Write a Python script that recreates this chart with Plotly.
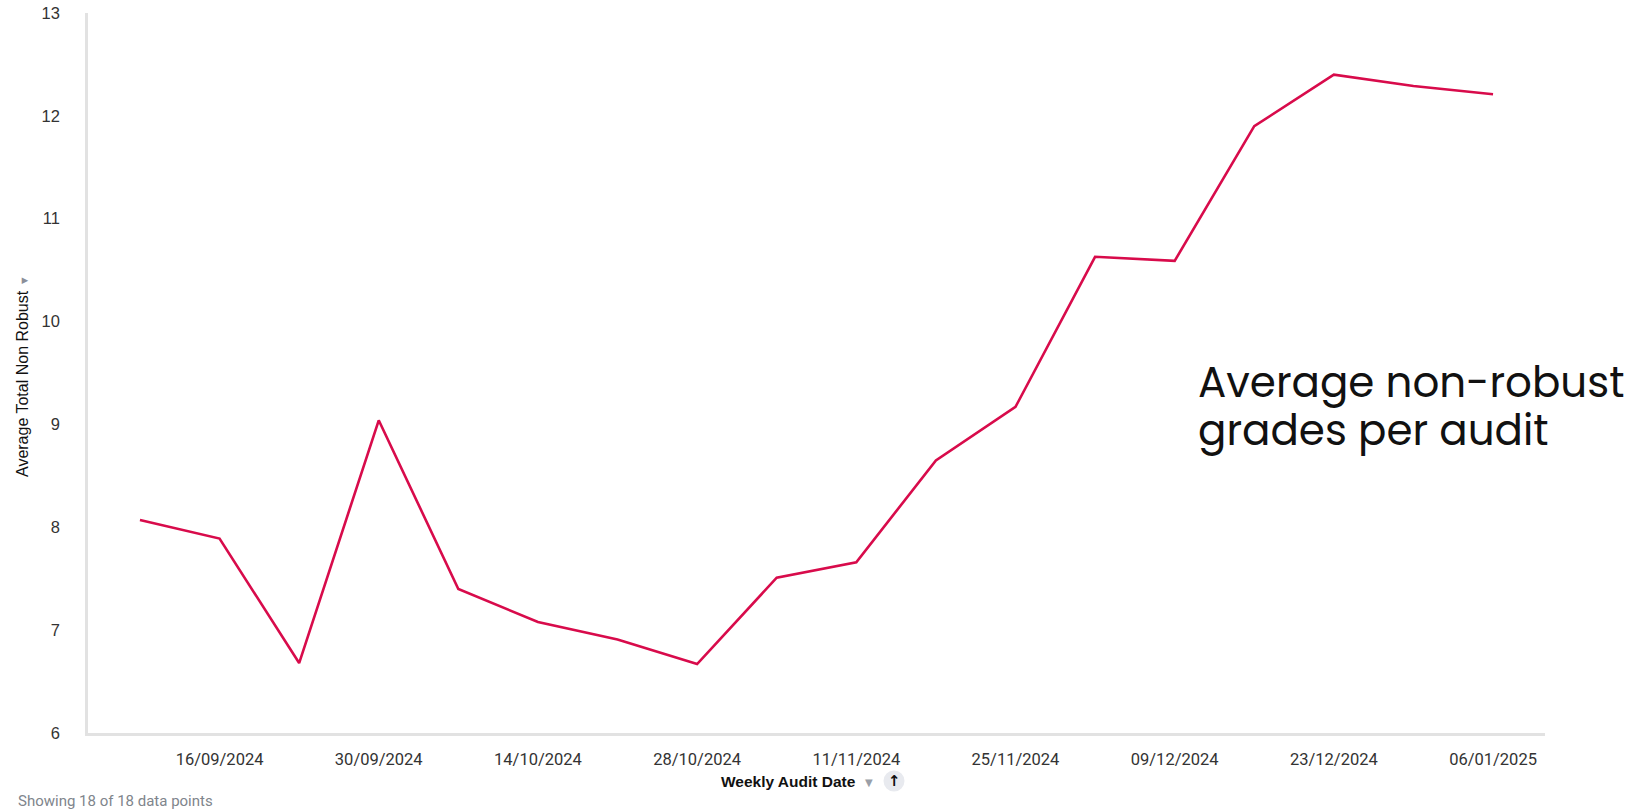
import pandas as pd
import plotly.graph_objects as go

# Weekly audit dates and the average number of non-robust grades per audit
week_start = ["2024-09-09", "2024-09-16", "2024-09-23", "2024-09-30", "2024-10-07",
              "2024-10-14", "2024-10-21", "2024-10-28", "2024-11-04", "2024-11-11",
              "2024-11-18", "2024-11-25", "2024-12-02", "2024-12-09", "2024-12-16",
              "2024-12-23", "2024-12-30", "2025-01-06"]
avg_non_robust = [8.07, 7.89, 6.68, 9.04, 7.40, 7.08, 6.91, 6.67, 7.51, 7.66,
                  8.65, 9.17, 10.63, 10.59, 11.90, 12.40, 12.29, 12.21]

# Fortnightly tick marks on the date axis
tick_dates = ["2024-09-16", "2024-09-30", "2024-10-14", "2024-10-28", "2024-11-11",
              "2024-11-25", "2024-12-09", "2024-12-23", "2025-01-06"]
tick_labels = ["16/09/2024", "30/09/2024", "14/10/2024", "28/10/2024", "11/11/2024",
               "25/11/2024", "09/12/2024", "23/12/2024", "06/01/2025"]
y_ticks = [6, 7, 8, 9, 10, 11, 12, 13]

W, H = 1637, 809
ML, MR, MT, MB = 88, 92, 13, 76
plot_w = W - ML - MR
plot_h = H - MT - MB


def px_x(px):
    return (px - ML) / plot_w


def px_y(py):
    return (H - MB - py) / plot_h


dates = pd.to_datetime(week_start)
pad = pd.Timedelta(days=4.57)
x_range = [dates.min() - pad, dates.max() + pad]

fig = go.Figure()
fig.add_trace(go.Scatter(
    x=dates, y=avg_non_robust, mode="lines",
    line=dict(color="#D80B4B", width=2.6),
    hoverinfo="x+y", showlegend=False,
))

fig.update_layout(
    width=W, height=H,
    margin=dict(l=ML, r=MR, t=MT, b=MB, pad=0),
    paper_bgcolor="white", plot_bgcolor="white",
    xaxis=dict(
        type="date", range=x_range, automargin=False,
        tickvals=pd.to_datetime(tick_dates), ticktext=tick_labels,
        showgrid=False, zeroline=False,
        showline=True, linecolor="#E2E2E2", linewidth=2.5,
        ticks="", ticklabelstandoff=9,
        tickfont=dict(family="Roboto, sans-serif", size=16.5, color="#333333"),
    ),
    yaxis=dict(
        range=[6, 13], tickvals=y_ticks, automargin=False,
        showgrid=False, zeroline=False,
        showline=True, linecolor="#E2E2E2", linewidth=2.5,
        ticks="", ticklabelstandoff=22,
        tickfont=dict(family="Liberation Sans, Arial, sans-serif", size=16.5, color="#333333"),
    ),
)

annotations = [
    # value axis title with its caret
    dict(text="Average Total Non Robust <span style='color:#8a8f99;font-size:11px'>▼</span>",
         x=px_x(22), y=px_y(376), xanchor="center", yanchor="middle", textangle=-90,
         font=dict(family="Liberation Sans Narrow, Arial Narrow, sans-serif", size=16,
                   color="#111111")),
    # date axis title with sort caret
    dict(text="<b>Weekly Audit Date</b>", x=px_x(719), y=px_y(781),
         xanchor="left", yanchor="middle",
         font=dict(family="Liberation Sans, Arial, sans-serif", size=15.5, color="#111111")),
    dict(text="▼", x=px_x(869), y=px_y(782), xanchor="center", yanchor="middle",
         font=dict(family="DejaVu Sans", size=10, color="#9a9fa8")),
    dict(text="<b>↑</b>", x=px_x(894), y=px_y(781), xanchor="center", yanchor="middle",
         font=dict(family="DejaVu Sans", size=15, color="#111111")),
    # footer
    dict(text="Showing 18 of 18 data points", x=px_x(16), y=px_y(801),
         xanchor="left", yanchor="middle",
         font=dict(family="Roboto, sans-serif", size=15, color="#80858c")),
    # callout text, one annotation per line for a tight line spacing
    dict(text="Average non-robust", x=px_x(1196), y=px_y(383),
         xanchor="left", yanchor="middle",
         font=dict(family="Poppins, Lato, Open Sans, sans-serif", size=42, color="#111111")),
    dict(text="grades per audit", x=px_x(1196), y=px_y(431),
         xanchor="left", yanchor="middle",
         font=dict(family="Poppins, Lato, Open Sans, sans-serif", size=42, color="#111111")),
]
for a in annotations:
    a.update(xref="paper", yref="paper", showarrow=False)
fig.update_layout(annotations=annotations)

# sort-direction button behind the arrow
r = 10.5
fig.add_shape(type="circle", xref="paper", yref="paper",
              x0=px_x(894 - r), x1=px_x(894 + r), y0=px_y(781 + r), y1=px_y(781 - r),
              fillcolor="#E8EAEF", line=dict(width=0), layer="below")

fig.write_html("out.html")
